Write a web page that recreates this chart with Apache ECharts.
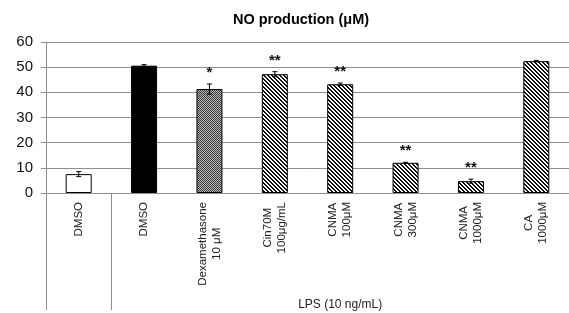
<!DOCTYPE html>
<html>
<head>
<meta charset="utf-8">
<script src="https://cdn.jsdelivr.net/npm/echarts@6/dist/echarts.min.js"></script>
<style>
  html, body { margin: 0; padding: 0; background: #fff; }
  #chart { width: 569px; height: 313px; }
</style>
</head>
<body>
<div id="chart"></div>
<script>
// data
const categories = ['DMSO', 'DMSO', 'Dexamethasone\n10 μM', 'Cin70M\n100μg/mL', 'CNMA\n100μM', 'CNMA\n300μM', 'CNMA\n1000μM', 'CA\n1000μM']
const values = [7.5, 50.6, 41.3, 47.2, 43.2, 12.0, 4.7, 52.4]
const errors = [1.0, 0.4, 2.0, 1.0, 0.5, 0.2, 0.8, 0.3]
const stars = ['', '', '*', '**', '**', '**', '**', '']
const groupLabel = 'LPS (10 ng/mL)'
const groupTicks = [0, 1, 8]
const groupLabelAt = [4.5]
const fills = ['white', 'black', 'dots', 'hatch', 'hatch', 'hatch', 'hatch', 'hatch']

const FONT = 'Liberation Sans, Arial, sans-serif'
const GRID_COLOR = '#8f8f8f'

const makeTile = (size, draw) => {
  const c = document.createElement('canvas')
  c.width = size
  c.height = size
  const ctx = c.getContext('2d')
  draw(ctx)
  return c
}

// fine grey texture
const dotTile = makeTile(2, ctx => {
  ctx.fillStyle = '#b8b8b8'
  ctx.fillRect(0, 0, 2, 2)
  ctx.fillStyle = '#3a3a3a'
  ctx.fillRect(0, 0, 1, 1)
  ctx.fillRect(1, 1, 1, 1)
})

// diagonal "\" hatching
const hatchTile = makeTile(4, ctx => {
  ctx.fillStyle = '#fff'
  ctx.fillRect(0, 0, 4, 4)
  ctx.fillStyle = '#111'
  for (let i = 0; i < 4; i++) {
    ctx.fillRect(i, i, 1, 1)
    ctx.fillRect((i + 1) % 4, i, 1, 1)
  }
})

const fillColor = f => {
  if (f === 'white') return '#fff'
  if (f === 'black') return '#000'
  if (f === 'dots') return { image: dotTile, repeat: 'repeat' }
  return { image: hatchTile, repeat: 'repeat' }
}

const chart = echarts.init(document.getElementById('chart'))

chart.setOption({
  animation: false,
  title: {
    text: 'NO production (μM)',
    left: 296,
    textAlign: 'center',
    top: 7,
    textStyle: { fontFamily: FONT, fontSize: 14.5, fontWeight: 'bold', color: '#000' }
  },
  grid: { left: 46, top: 42, width: 527, height: 151 },
  xAxis: [
    {
      type: 'category',
      data: categories,
      axisLine: { lineStyle: { color: GRID_COLOR } },
      axisTick: { interval: 0, length: 93, lineStyle: { color: GRID_COLOR } },
      axisLabel: {
        interval: 0,
        rotate: 90,
        margin: 9,
        fontFamily: FONT,
        fontSize: 11.5,
        lineHeight: 14,
        color: '#222',
        formatter: v => v.split('\n').map(s => '{c|' + s + '}').join('\n'),
        rich: { c: { align: 'center', fontFamily: FONT, fontSize: 11.5, lineHeight: 14, color: '#222' } }
      }
    },
    {
      type: 'value',
      min: 0,
      max: 8,
      position: 'bottom',
      axisLine: { show: false },
      splitLine: { show: false },
      axisTick: { show: true, customValues: groupTicks, length: 117, lineStyle: { color: GRID_COLOR } },
      axisLabel: {
        customValues: groupLabelAt,
        margin: 106,
        fontFamily: FONT,
        fontSize: 12,
        color: '#222',
        formatter: () => groupLabel
      }
    }
  ],
  yAxis: {
    type: 'value',
    min: 0,
    max: 60,
    interval: 10,
    axisLine: { show: true, lineStyle: { color: GRID_COLOR } },
    axisTick: { show: true, length: 5, lineStyle: { color: GRID_COLOR } },
    axisLabel: { margin: 13, fontFamily: FONT, fontSize: 15, color: '#111' },
    splitLine: { lineStyle: { color: GRID_COLOR } }
  },
  series: [
    {
      type: 'bar',
      barWidth: 26,
      data: values.map((v, i) => ({
        value: v,
        itemStyle: { color: fillColor(fills[i]), borderColor: '#000', borderWidth: 1 }
      }))
    },
    {
      type: 'custom',
      z: 5,
      data: values.map((v, i) => [i, v, errors[i]]),
      renderItem: (params, api) => {
        const i = api.value(0)
        const top = api.coord([i, api.value(1) + api.value(2)])
        const bot = api.coord([i, api.value(1) - api.value(2)])
        const cap = 2.5
        const stroke = { stroke: '#000', lineWidth: 1 }
        const children = [
          { type: 'line', shape: { x1: top[0], y1: top[1], x2: bot[0], y2: bot[1] }, style: stroke },
          { type: 'line', shape: { x1: top[0] - cap, y1: top[1], x2: top[0] + cap, y2: top[1] }, style: stroke },
          { type: 'line', shape: { x1: bot[0] - cap, y1: bot[1], x2: bot[0] + cap, y2: bot[1] }, style: stroke }
        ]
        if (stars[i]) {
          children.push({
            type: 'text',
            x: top[0],
            y: top[1] - 11,
            style: {
              text: stars[i],
              align: 'center',
              verticalAlign: 'middle',
              font: 'bold 15px Liberation Sans',
              fill: '#111'
            }
          })
        }
        return { type: 'group', children }
      }
    }
  ]
})
</script>
</body>
</html>
